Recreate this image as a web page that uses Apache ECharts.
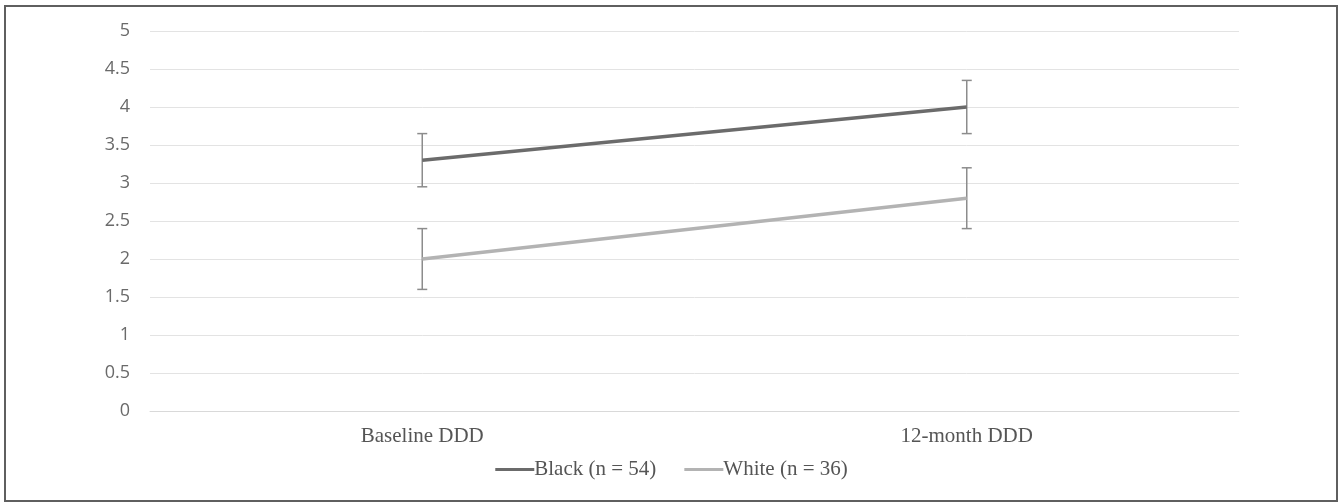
<!DOCTYPE html>
<html><head><meta charset="utf-8">
<script src="https://cdn.jsdelivr.net/npm/echarts@6/dist/echarts.min.js"></script>
<style>
html,body{margin:0;padding:0;background:#fff;}
#c{width:1343px;height:502px;position:relative;}
#frame{position:absolute;left:4px;top:5px;width:1330px;height:493px;border:2px solid #5f5f5f;pointer-events:none;z-index:5;}
</style></head>
<body>
<div id="c"></div>
<div id="frame"></div>
<script>
const categories = ['Baseline DDD', '12-month DDD'];
const blackName = 'Black (n = 54)';
const whiteName = 'White (n = 36)';
const blackMeans = [3.3, 4.0];
const blackErr = [0.35, 0.35];
const whiteMeans = [2.0, 2.8];
const whiteErr = [0.4, 0.4];
const yTicks = [0, 0.5, 1, 1.5, 2, 2.5, 3, 3.5, 4, 4.5, 5];

function errData(means, errs){
  return means.map((m,i)=>[i, m - errs[i], m + errs[i]]);
}
function errSeries(name, means, errs){
  return {
    type:'custom', name: name + ' err', z: 1,
    data: errData(means, errs),
    renderItem: function(params, api){
      const x = api.value(0);
      const lo = api.coord([x, api.value(1)]);
      const hi = api.coord([x, api.value(2)]);
      const w = 5;
      const st = {stroke:'#8c8c8c', lineWidth:1.5};
      return {type:'group', children:[
        {type:'line', shape:{x1:lo[0], y1:lo[1], x2:hi[0], y2:hi[1]}, style:st},
        {type:'line', shape:{x1:lo[0]-w, y1:lo[1], x2:lo[0]+w, y2:lo[1]}, style:st},
        {type:'line', shape:{x1:hi[0]-w, y1:hi[1], x2:hi[0]+w, y2:hi[1]}, style:st}
      ]};
    },
    tooltip:{show:false}
  };
}

const chart = echarts.init(document.getElementById('c'), null, {renderer:'canvas'});
chart.setOption({
  animation:false,
  grid:{left:150, right:104, top:31, bottom:91, containLabel:false},
  legend:{
    top:454, left:'center', itemGap:28, itemWidth:39, itemHeight:3,
    icon:'rect',
    textStyle:{fontFamily:'Liberation Serif', fontSize:21, color:'#555', padding:[0,0,0,-5]},
    data:[{name:blackName},{name:whiteName}]
  },
  xAxis:{
    type:'category', data:categories, boundaryGap:true,
    axisLine:{show:true, lineStyle:{color:'#d9d9d9', width:1}},
    axisTick:{show:false},
    axisLabel:{fontFamily:'Liberation Serif', fontSize:21, color:'#555', margin:15}
  },
  yAxis:{
    type:'value', min:0, max:5, interval:0.5,
    axisLine:{show:false}, axisTick:{show:false},
    splitLine:{lineStyle:{color:'#e3e3e3', width:1}},
    axisLabel:{fontFamily:'Open Sans', fontSize:18, color:'#6a6a6a', margin:20,
      formatter:function(v){ return yTicks.indexOf(v) >= 0 ? String(v) : ''; }}
  },
  series:[
    {name:blackName, type:'line', data:blackMeans, symbol:'none', z:3,
      lineStyle:{color:'#6b6b6b', width:3.5}, itemStyle:{color:'#6b6b6b'}},
    {name:whiteName, type:'line', data:whiteMeans, symbol:'none', z:3,
      lineStyle:{color:'#b3b3b3', width:3.5}, itemStyle:{color:'#b3b3b3'}},
    errSeries(blackName, blackMeans, blackErr),
    errSeries(whiteName, whiteMeans, whiteErr)
  ]
});
</script>
</body></html>
